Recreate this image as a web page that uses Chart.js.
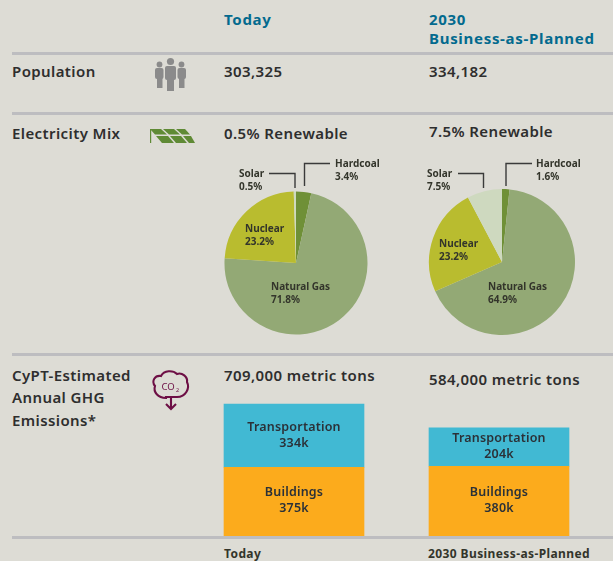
<!DOCTYPE html>
<html>
<head>
<meta charset="utf-8">
<script src="https://cdn.jsdelivr.net/npm/chart.js@4"></script>
<style>
    html, body { margin: 0; padding: 0; background: #dddcd5; }
    #page { position: relative; width: 613px; height: 561px; overflow: hidden; background: #dddcd5;
        font-family: "Noto Sans", sans-serif; color: #2e2e2e; }
    .t { position: absolute; white-space: nowrap; line-height: 1; }
    .head { font-size: 15px; font-weight: 700; color: #036a8e; letter-spacing: 0.7px; }
    .row { font-size: 15px; font-weight: 600; letter-spacing: 0.4px; }
    .small { font-size: 10px; font-weight: 700; line-height: 13px; color: #33352b; }
    .foot { font-size: 12px; font-weight: 700; color: #33352b; letter-spacing: 0.4px; }
    .rule { position: absolute; left: 12px; right: 0; height: 3px; background: #bdbdc0; }
    canvas { position: absolute; }
    svg { position: absolute; left: 0; top: 0; }
</style>
</head>
<body>
<div id="page">
    <div class="rule" style="top:52px"></div>
    <div class="rule" style="top:112px"></div>
    <div class="rule" style="top:353px"></div>

    <div class="t head" style="left:224px;top:12px">Today</div>
    <div class="t head" style="left:429px;top:12px">2030</div>
    <div class="t head" style="left:429px;top:31px">Business-as-Planned</div>

    <div class="t row" style="left:12px;top:64px">Population</div>
    <div class="t row" style="left:224px;top:64px">303,325</div>
    <div class="t row" style="left:429px;top:64px">334,182</div>

    <div class="t row" style="left:12px;top:126px">Electricity Mix</div>
    <div class="t row" style="left:224px;top:126px">0.5% Renewable</div>
    <div class="t row" style="left:429px;top:124px">7.5% Renewable</div>

    <div class="t row" style="left:12px;top:368px">CyPT-Estimated</div>
    <div class="t row" style="left:12px;top:390px">Annual GHG</div>
    <div class="t row" style="left:12px;top:413px">Emissions*</div>
    <div class="t row" style="left:224px;top:368px">709,000 metric tons</div>
    <div class="t row" style="left:429px;top:372px">584,000 metric tons</div>

    <canvas id="pie-today" style="left:221px;top:188px"></canvas>
    <canvas id="pie-2030" style="left:427px;top:187px"></canvas>
    <canvas id="bars" style="left:190px;top:387px"></canvas>

    <div class="rule" style="top:536px"></div>
    <div class="t foot" style="left:224px;top:548px">Today</div>
    <div class="t foot" style="left:428px;top:548px">2030 Business-as-Planned</div>

    <div class="t small" style="left:239px;top:167px">Solar<br>0.5%</div>
    <div class="t small" style="left:335px;top:157px">Hardcoal<br>3.4%</div>
    <div class="t small" style="left:245px;top:222px">Nuclear<br>23.2%</div>
    <div class="t small" style="left:271px;top:280px">Natural Gas<br>71.8%</div>

    <div class="t small" style="left:427px;top:167px">Solar<br>7.5%</div>
    <div class="t small" style="left:536px;top:157px">Hardcoal<br>1.6%</div>
    <div class="t small" style="left:439px;top:237px">Nuclear<br>23.2%</div>
    <div class="t small" style="left:488px;top:280px">Natural Gas<br>64.9%</div>

    <svg width="613" height="561" viewBox="0 0 613 561">
        <!-- leader lines -->
        <g fill="none" stroke="#3a3a3a" stroke-width="1.4">
            <path d="M269 173.5H295V188"/>
            <path d="M330 163.5H304.5V186"/>
            <path d="M458 173.5H483.5V188"/>
            <path d="M532 163.5H506V186"/>
        </g>
        <!-- people -->
        <g fill="#8b8b8b">
            <circle cx="170.5" cy="61.5" r="3.6"/>
            <rect x="165" y="66" width="11" height="14" rx="2"/>
            <rect x="167" y="78" width="7" height="13"/>
            <circle cx="159.5" cy="64.5" r="2.9"/>
            <rect x="155" y="68" width="8.5" height="11" rx="2"/>
            <rect x="157" y="77" width="5.5" height="11"/>
            <circle cx="181.5" cy="64.5" r="2.9"/>
            <rect x="177.5" y="68" width="8.5" height="11" rx="2"/>
            <rect x="179" y="77" width="5.5" height="11"/>
        </g>
        <!-- solar panel -->
        <g fill="#5f8a35">
            <polygon points="150,129 161,129 167,134.5 155,134.5"/>
            <polygon points="163,129 174,129 180,134.5 169,134.5"/>
            <polygon points="176,129 185,129 190,134.5 182,134.5"/>
            <polygon points="156,136 168,136 174,143 162,143"/>
            <polygon points="170,136 181,136 187,143 176,143"/>
            <polygon points="183,136 191,136 195,143 189,143"/>
            <rect x="150" y="129" width="1.2" height="14"/>
        </g>
        <!-- co2 cloud -->
        <g fill="none" stroke="#6d0f45" stroke-width="2.1">
            <path d="M166 398C158 398 153 392 155 386C151 381 155 375 161 376C164 370 173 370 177 374C182 372 188 377 187 382C190 388 186 397 177 397H166Z"/>
            <path d="M171 398V408M166 404L171 409L176 404"/>
        </g>
        <text x="161.5" y="390" font-size="9.5" fill="#6d0f45" font-family="Noto Sans">CO</text>
        <text x="176" y="392" font-size="5.5" fill="#6d0f45" font-family="Noto Sans">2</text>
    </svg>
</div>

<script>
const pieCategories = ['Hardcoal', 'Natural Gas', 'Nuclear', 'Solar'];
const pieToday = [3.4, 71.8, 23.2, 0.5];
const pie2030 = [1.6, 64.9, 23.2, 7.5];
const pieColors = ['#6f9037', '#93a975', '#b9bc2f', '#ced9bf'];

const barCategories = ['Today', '2030 Business-as-Planned'];
const buildings = [375, 380];
const transportation = [334, 204];

function makePie(id, values, radius) {
    const canvas = document.getElementById(id);
    canvas.width = 150;
    canvas.height = 150;
    canvas.style.width = '150px';
    canvas.style.height = '150px';
    new Chart(canvas, {
        type: 'pie',
        data: {
            labels: pieCategories,
            datasets: [{ data: values, backgroundColor: pieColors, borderWidth: 0 }]
        },
        options: {
            responsive: false,
            animation: false,
            radius: radius,
            plugins: { legend: { display: false }, tooltip: { enabled: false } }
        }
    });
}

makePie('pie-today', pieToday, 71.5);
makePie('pie-2030', pie2030, 73);

// writes "Name / 334k" in the middle of each stacked segment
const segmentLabels = {
    id: 'segmentLabels',
    afterDatasetsDraw(chart) {
        const ctx = chart.ctx;
        ctx.save();
        ctx.fillStyle = '#2b3138';
        ctx.textAlign = 'center';
        ctx.textBaseline = 'middle';
        ctx.font = '600 12.5px "Noto Sans"';
        ctx.letterSpacing = '0.2px';
        chart.data.datasets.forEach((ds, i) => {
            const nudge = ds.label === 'Buildings' ? -2 : -0.5;
            chart.getDatasetMeta(i).data.forEach((bar, j) => {
                const mid = (bar.y + bar.base) / 2 + nudge;
                ctx.fillText(ds.label, bar.x, mid - 8);
                ctx.fillText(ds.data[j] + 'k', bar.x, mid + 8);
            });
        });
        ctx.restore();
    }
};

const barCanvas = document.getElementById('bars');
barCanvas.width = 414;
barCanvas.height = 151;
barCanvas.style.width = '414px';
barCanvas.style.height = '151px';
new Chart(barCanvas, {
    type: 'bar',
    data: {
        labels: barCategories,
        datasets: [
            { label: 'Buildings', data: buildings, backgroundColor: '#fcab1c', barThickness: 140 },
            { label: 'Transportation', data: transportation, backgroundColor: '#41b9d3', barThickness: 140 }
        ]
    },
    options: {
        responsive: false,
        animation: false,
        layout: { padding: { left: 1.5, right: 2.5 } },
        scales: {
            x: { display: false, stacked: true },
            y: { display: false, stacked: true, min: 0, max: 800 }
        },
        plugins: { legend: { display: false }, tooltip: { enabled: false } }
    },
    plugins: [segmentLabels]
});
</script>
</body>
</html>
